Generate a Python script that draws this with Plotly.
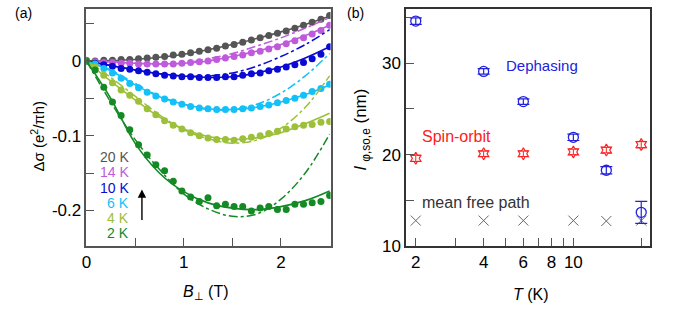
import plotly.graph_objects as go

# ---------------- Panel (a) data ----------------
B_data = [0.000, 0.089, 0.179, 0.268, 0.357, 0.446, 0.536, 0.625, 0.714, 0.804,
          0.893, 0.982, 1.071, 1.161, 1.250, 1.339, 1.429, 1.518, 1.607, 1.696,
          1.786, 1.875, 1.964, 2.054, 2.143, 2.232, 2.321, 2.411, 2.500]

d20 = [0.000, 0.000, 0.001, 0.001, 0.002, 0.002, 0.003, 0.004, 0.005, 0.006,
       0.008, 0.009, 0.011, 0.013, 0.015, 0.017, 0.020, 0.022, 0.025, 0.028,
       0.031, 0.034, 0.037, 0.040, 0.044, 0.048, 0.052, 0.056, 0.061]
d14 = [0.001, -0.001, -0.002, -0.002, -0.003, -0.003, -0.004, -0.004, -0.004, -0.004,
       -0.004, -0.003, -0.002, -0.001, 0.000, 0.002, 0.004, 0.006, 0.008, 0.011,
       0.013, 0.016, 0.019, 0.023, 0.027, 0.031, 0.036, 0.041, 0.048]
d10 = [0.000, -0.003, -0.005, -0.007, -0.010, -0.011, -0.013, -0.015, -0.017, -0.019,
       -0.020, -0.021, -0.021, -0.022, -0.022, -0.022, -0.021, -0.021, -0.019, -0.017,
       -0.016, -0.013, -0.011, -0.008, -0.005, -0.002, 0.003, 0.009, 0.019]
d6 = [0.000, -0.004, -0.010, -0.016, -0.023, -0.030, -0.036, -0.042, -0.047, -0.051,
      -0.055, -0.058, -0.061, -0.063, -0.064, -0.065, -0.065, -0.065, -0.064, -0.063,
      -0.061, -0.059, -0.056, -0.053, -0.050, -0.046, -0.041, -0.037, -0.031]
d4 = [0.000, -0.008, -0.019, -0.029, -0.039, -0.046, -0.054, -0.064, -0.072, -0.080,
      -0.086, -0.091, -0.096, -0.100, -0.103, -0.105, -0.105, -0.106, -0.104, -0.102,
      -0.100, -0.097, -0.094, -0.091, -0.088, -0.086, -0.085, -0.082, -0.081]
d2 = [0.000, -0.012, -0.035, -0.055, -0.073, -0.092, -0.112, -0.126, -0.139, -0.147,
      -0.161, -0.174, -0.182, -0.188, -0.183, -0.194, -0.192, -0.195, -0.195, -0.201,
      -0.197, -0.195, -0.199, -0.199, -0.192, -0.192, -0.190, -0.188, -0.180]

B_fit = [0.0, 0.25, 0.5, 0.75, 1.0, 1.25, 1.5, 1.75, 2.0, 2.25, 2.5]
f20 = [0.000, 0.0005, 0.002, 0.005, 0.009, 0.015, 0.022, 0.030, 0.039, 0.049, 0.060]
f14 = [0.000, -0.001, -0.003, -0.004, -0.003, 0.000, 0.006, 0.013, 0.022, 0.034, 0.048]
f10 = [0.000, -0.006, -0.012, -0.017, -0.020, -0.022, -0.021, -0.016, -0.008, 0.004, 0.019]
f6 = [0.000, -0.013, -0.032, -0.048, -0.058, -0.064, -0.065, -0.062, -0.055, -0.045, -0.032]
f4 = [0.000, -0.027, -0.052, -0.075, -0.091, -0.101, -0.105, -0.103, -0.096, -0.084, -0.070]
f2 = [0.000, -0.050, -0.110, -0.150, -0.175, -0.190, -0.197, -0.199, -0.195, -0.187, -0.174]

a14 = [0.000, -0.001, -0.003, -0.004, -0.003, 0.003, 0.010, 0.020, 0.031, 0.044, 0.058]
a10 = [0.000, -0.006, -0.012, -0.017, -0.020, -0.020, -0.016, -0.007, 0.006, 0.022, 0.042]
a6 = [0.000, -0.012, -0.030, -0.047, -0.058, -0.065, -0.065, -0.058, -0.043, -0.020, 0.010]
a4 = [0.000, -0.022, -0.047, -0.072, -0.092, -0.104, -0.110, -0.106, -0.090, -0.062, -0.020]
a2 = [0.000, -0.055, -0.105, -0.145, -0.178, -0.198, -0.208, -0.205, -0.185, -0.150, -0.098]

labels_a = ["20 K", "14 K", "10 K", "6 K", "4 K", "2 K"]
colors_a = ["#555555", "#bf5adc", "#0a0ad2", "#14c0f8", "#9dc03a", "#138a24"]

# ---------------- Panel (b) data ----------------
T = [2, 4, 6, 10, 14, 20]
dephasing = [34.6, 29.1, 25.8, 21.9, 18.3, 13.7]
dephasing_err_plus = [0.35, 0.3, 0.3, 0.35, 0.4, 1.2]
dephasing_err_minus = [0.35, 0.3, 0.3, 0.35, 0.4, 1.2]
spin_orbit = [19.6, 20.1, 20.1, 20.3, 20.5, 21.1]
spin_orbit_err = [0.35, 0.3, 0.3, 0.3, 0.3, 0.35]
mfp = [12.8, 12.8, 12.8, 12.8, 12.75, 12.8]

x_major_b = [2, 4, 6, 8, 10]
x_minor_b = [3, 5, 7, 9, 20]

FONT = "Liberation Sans, Arial, Helvetica, sans-serif"

fig = go.Figure()

data_sets = [d20, d14, d10, d6, d4, d2]
fit_sets = [f20, f14, f10, f6, f4, f2]
alt_sets = [None, a14, a10, a6, a4, a2]

for i in range(6):
    c = colors_a[i]
    if alt_sets[i] is not None:
        fig.add_trace(go.Scatter(x=B_fit, y=alt_sets[i], mode="lines",
                                 line=dict(color=c, width=1.5, dash="dashdot", shape="spline"),
                                 xaxis="x", yaxis="y", showlegend=False, hoverinfo="skip"))
    fig.add_trace(go.Scatter(x=B_fit, y=fit_sets[i], mode="lines",
                             line=dict(color=c, width=1.6, shape="spline"),
                             xaxis="x", yaxis="y", showlegend=False))
    fig.add_trace(go.Scatter(x=B_data, y=data_sets[i], mode="markers",
                             marker=dict(color=c, size=7),
                             xaxis="x", yaxis="y", showlegend=False))

# Panel (b)
fig.add_trace(go.Scatter(x=T, y=mfp, mode="markers",
                         marker=dict(symbol="x-thin-open", size=10, color="#666666",
                                     line=dict(color="#666666", width=1)),
                         xaxis="x2", yaxis="y2", showlegend=False))
fig.add_trace(go.Scatter(x=T, y=spin_orbit, mode="markers",
                         marker=dict(symbol="hexagram-open", size=9, color="#ff2020",
                                     line=dict(color="#ff2020", width=1.2)),
                         error_y=dict(type="data", array=spin_orbit_err, color="#ff2020",
                                      thickness=1, width=5),
                         xaxis="x2", yaxis="y2", showlegend=False))
fig.add_trace(go.Scatter(x=T, y=dephasing, mode="markers",
                         marker=dict(symbol="circle-open", size=10, color="#2222dd",
                                     line=dict(color="#2222dd", width=1.3)),
                         error_y=dict(type="data", array=dephasing_err_plus,
                                      arrayminus=dephasing_err_minus, color="#2222dd",
                                      thickness=1.2, width=6),
                         xaxis="x2", yaxis="y2", showlegend=False))

ann = []
# legend texts for (a)
leg_y = [-0.1286, -0.149, -0.1695, -0.190, -0.2105, -0.231]
for i in range(6):
    ann.append(dict(x=0.46, y=leg_y[i], xref="x", yref="y", text=labels_a[i],
                    showarrow=False, xanchor="right", yanchor="middle",
                    font=dict(family=FONT, size=14, color=colors_a[i])))
# arrow
ann.append(dict(x=0.571, y=-0.172, xref="x", yref="y", ax=0, ay=32,
                axref="pixel", ayref="pixel", text="", showarrow=True,
                arrowhead=2, arrowsize=1.2, arrowwidth=1.4, arrowcolor="black"))
# panel labels
ann.append(dict(x=8 / 675, y=1 - 13 / 325, xref="paper", yref="paper", text="(a)",
                showarrow=False, xanchor="left", yanchor="middle",
                font=dict(family=FONT, size=14, color="black")))
ann.append(dict(x=343 / 675, y=1 - 13 / 325, xref="paper", yref="paper", text="(b)",
                showarrow=False, xanchor="left", yanchor="middle",
                font=dict(family=FONT, size=14, color="black")))
# axis titles
ann.append(dict(x=33 / 675, y=1 - 140 / 325, xref="paper", yref="paper",
                text="Δσ (e<sup>2</sup>/πh)", textangle=-90, showarrow=False,
                xanchor="center", yanchor="middle",
                font=dict(family=FONT, size=15, color="black")))
ann.append(dict(x=203 / 675, y=1 - 302 / 325, xref="paper", yref="paper",
                text="<i>B</i><sub>⊥</sub> (T)", showarrow=False,
                xanchor="center", yanchor="middle",
                font=dict(family=FONT, size=16, color="black")))
ann.append(dict(x=360 / 675, y=1 - 133 / 325, xref="paper", yref="paper",
                text="<i>l</i> <sub>φ,so,e</sub> (nm)", textangle=-90, showarrow=False,
                xanchor="center", yanchor="middle",
                font=dict(family=FONT, size=17, color="black")))
ann.append(dict(x=530 / 675, y=1 - 304 / 325, xref="paper", yref="paper",
                text="<i>T</i> (K)", showarrow=False,
                xanchor="center", yanchor="middle",
                font=dict(family=FONT, size=16, color="black")))
# panel (b) labels
ann.append(dict(x=541 / 675, y=1 - 68 / 325, xref="paper", yref="paper", text="Dephasing",
                showarrow=False, xanchor="center", yanchor="middle",
                font=dict(family=FONT, size=15, color="#2222dd")))
ann.append(dict(x=455 / 675, y=1 - 141 / 325, xref="paper", yref="paper", text="Spin-orbit",
                showarrow=False, xanchor="center", yanchor="middle",
                font=dict(family=FONT, size=16, color="#ff2020")))
ann.append(dict(x=475 / 675, y=1 - 209 / 325, xref="paper", yref="paper", text="mean free path",
                showarrow=False, xanchor="center", yanchor="middle",
                font=dict(family=FONT, size=16, color="#333333")))

axis_common = dict(showgrid=False, zeroline=False, showline=True, mirror=True,
                   ticks="inside", ticklen=8, tickwidth=1.2, tickcolor="#555555",
                   tickfont=dict(family=FONT, size=17, color="black"))
minor_common = dict(ticks="inside", ticklen=8, tickwidth=1.2, tickcolor="#555555",
                    showgrid=False)

fig.update_layout(
    width=675, height=325,
    margin=dict(l=0, r=0, t=0, b=0),
    paper_bgcolor="white", plot_bgcolor="white",
    showlegend=False,
    annotations=ann,
    xaxis=dict(domain=[82 / 675, 328 / 675], range=[0, 2.51],
               tickvals=[0, 1, 2], ticktext=["0", "1", "2"],
               minor=dict(tickvals=[0.5, 1.5], **minor_common),
               linecolor="#555555", linewidth=1.5, anchor="y", **axis_common),
    yaxis=dict(domain=[(325 - 254) / 325, (325 - 9) / 325], range=[-0.248, 0.070],
               tickvals=[0, -0.1, -0.2], ticktext=["0", "-0.1", "-0.2"],
               minor=dict(tickvals=[0.05, -0.05, -0.15], **minor_common),
               linecolor="#555555", linewidth=1.5, anchor="x", **axis_common),
    xaxis2=dict(domain=[404 / 675, 650 / 675], type="log",
                range=[0.2577, 1.3407],
                tickvals=x_major_b, ticktext=[str(v) for v in x_major_b],
                minor=dict(tickvals=x_minor_b, **minor_common),
                linecolor="#333333", linewidth=1.5, anchor="y2", **axis_common),
    yaxis2=dict(domain=[(325 - 254) / 325, (325 - 9) / 325], range=[10, 35.95],
                tickvals=[10, 20, 30], ticktext=["10", "20", "30"],
                minor=dict(tickvals=[15, 25, 35], **minor_common),
                linecolor="#333333", linewidth=1.5, anchor="x2", **axis_common),
)

fig.write_html("out.html",
               config={"displayModeBar": False},
               post_script="document.body.style.margin='0';document.body.style.padding='0';")
